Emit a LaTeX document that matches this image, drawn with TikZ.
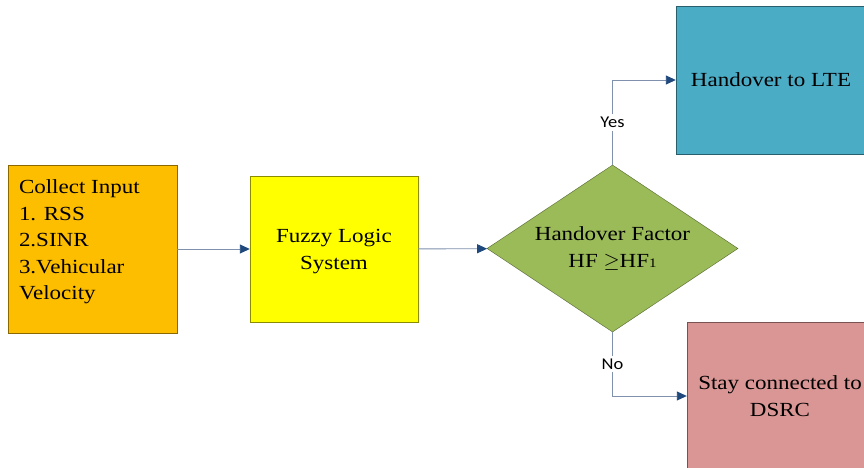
\documentclass[tikz,border=0pt]{standalone}
\usepackage{fontspec}
\setmainfont[FakeStretch=1.15]{Liberation Serif}
\newfontfamily\yesnofont[FakeStretch=1.12]{Carlito}
\usetikzlibrary{shapes.geometric,arrows.meta}
\definecolor{inputcol}{HTML}{FDBE00}
\definecolor{fuzzycol}{HTML}{FFFF00}
\definecolor{hfcol}{HTML}{9BBB59}
\definecolor{ltecol}{HTML}{4BACC6}
\definecolor{dsrccol}{HTML}{D99694}
\definecolor{linkcol}{HTML}{7F91AC}
\definecolor{tipcol}{HTML}{1F497D}
\begin{document}
\begin{tikzpicture}[x=1pt,y=-1pt,
    box/.style={draw=#1!55!black, fill=#1, inner sep=0pt, align=center,
      font=\fontsize{20}{27}\selectfont},
    link/.style={draw=linkcol, line width=0.9pt,
      -{Triangle[length=10pt,width=9pt,fill=tipcol,color=tipcol]}},
    yesno/.style={fill=white, inner sep=3pt, font=\yesnofont\fontsize{16.5}{16.5}\selectfont}]
  \clip (0,0) rectangle (864,468);
  \fill[white] (0,0) rectangle (864,468);
  \draw
    (92.5,249) node[box=inputcol, minimum width=169, minimum height=168] (input){}
    (334,249) node[box=fuzzycol, minimum width=168, minimum height=146, text depth=-2pt] (fuzzy){Fuzzy Logic\\System}
    (612.5,248.5) node[box=hfcol, shape=diamond, aspect=1.5, minimum width=251, minimum height=167] (hf)
      {Handover Factor\\HF $\geq$HF{\fontsize{13}{13}\selectfont 1}}
    (771,80) node[box=ltecol, minimum width=190, minimum height=148] (lte){Handover to LTE}
    (780,396) node[box=dsrccol, minimum width=186, minimum height=148] (dsrc){Stay connected to\\DSRC};
  \node[anchor=north west, align=left, inner sep=0pt, font=\fontsize{20}{26.5}\selectfont]
    (inputtext) at ([xshift=11pt,yshift=-15pt]input.north west)
    {Collect Input\\1. RSS\\2.SINR\\3.Vehicular\\Velocity};
  \begin{scope}[link]
    \draw (input) to (fuzzy);
    \draw (fuzzy) to (hf);
    \draw (hf.north) |- node[yesno, pos=0.25]{Yes} (lte.west);
    \draw (hf.south) |- node[yesno, pos=0.25]{No} (dsrc.west);
  \end{scope}
\end{tikzpicture}
\end{document}
